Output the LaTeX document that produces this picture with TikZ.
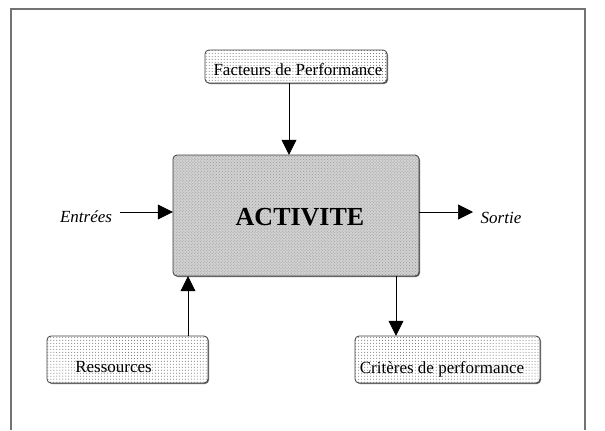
\documentclass[tikz,border=0pt]{standalone}
\usepackage{fontspec}
\setmainfont{Liberation Serif}
\usetikzlibrary{arrows.meta,patterns,shadows}
\begin{document}
\begin{tikzpicture}[x=1bp,y=-1bp,
  smallbox/.style={draw=black!75,line width=0.8bp,rounded corners=4bp,
    preaction={fill=white,drop shadow={shadow xshift=1bp,shadow yshift=-1bp,fill=black!60,opacity=1}},
    pattern=dots,pattern color=black!60},
  bigbox/.style={draw=black!75,line width=0.8bp,rounded corners=4bp,
    preaction={fill=black!18,drop shadow={shadow xshift=1bp,shadow yshift=-1bp,fill=black!60,opacity=1}},
    pattern=crosshatch dots,pattern color=black!40},
  lbl/.style={font=\fontsize{17bp}{20bp}\selectfont,inner sep=0pt,anchor=base},
  arr/.style={line width=0.7bp,-{Triangle[length=15bp,width=15bp]}}]
\useasboundingbox (0,0) rectangle (605,430);
% outer frame
\draw[black!55,line width=1.5bp] (11,430) -- (11,9) -- (585,9) -- (585,430);
% boxes
\draw[smallbox] (205,50) rectangle (387,83);
\node[lbl] (fact) at (298,75) {Facteurs de Performance};
\draw[bigbox] (173,155) rectangle (419,276);
\node[font=\fontsize{26bp}{30bp}\selectfont\bfseries,inner sep=0pt] (act) at (300,217) {ACTIVITE};
\draw[smallbox] (47,336) rectangle (208,383);
\node[lbl] (res) at (113.5,372) {Ressources};
\draw[smallbox] (355,336) rectangle (540,383);
\node[lbl] (crit) at (442,373) {Critères de performance};
% invisible anchor nodes for box edges
\node[inner sep=0pt,minimum width=182bp,minimum height=33bp] (factB) at (296,66.5) {};
\node[inner sep=0pt,minimum width=246bp,minimum height=121bp] (actB) at (296,215.5) {};
\node[inner sep=0pt,minimum width=161bp,minimum height=47bp] (resB) at (127.5,359.5) {};
\node[inner sep=0pt,minimum width=185bp,minimum height=47bp] (critB) at (447.5,359.5) {};
% side labels
\node[lbl,font=\fontsize{17bp}{20bp}\selectfont\itshape] (ent) at (86,222) {Entrées};
\node[lbl,font=\fontsize{17bp}{20bp}\selectfont\itshape] (sor) at (501,223) {Sortie};
% coordinates for arrow x positions
\coordinate (xa) at (289,0);
\coordinate (xr) at (188,0);
\coordinate (xc) at (396,0);
\coordinate (ey) at (0,212);
\coordinate (ee) at (120,212);
\coordinate (se) at (473,212);
% connectors
\draw[arr] (factB.south -| xa) -- (actB.north -| xa);
\draw[arr] (resB.north -| xr) -- (actB.south -| xr);
\draw[arr] (actB.south -| xc) -- (critB.north -| xc);
\draw[arr] (ee) -- (actB.west |- ey);
\draw[arr] (actB.east |- ey) -- (se);
\end{tikzpicture}
\end{document}
